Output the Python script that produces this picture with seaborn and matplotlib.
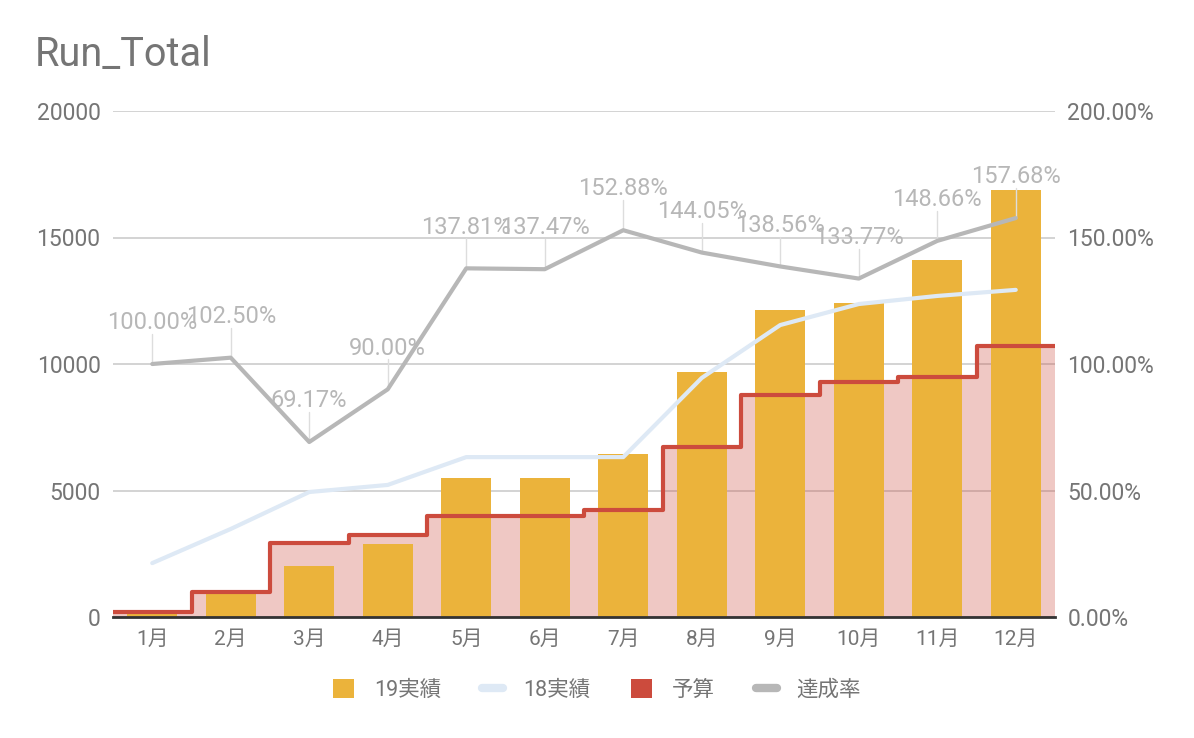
import numpy as np
import pandas as pd
import matplotlib
matplotlib.use("Agg")
import matplotlib.pyplot as plt
import seaborn as sns
from matplotlib.patches import Patch
from matplotlib.lines import Line2D

months = ["1月", "2月", "3月", "4月", "5月", "6月", "7月", "8月", "9月", "10月", "11月", "12月"]
actual19 = [200, 1000, 2020, 2900, 5500, 5500, 6450, 9700, 12150, 12400, 14100, 16880]
actual18 = [2130, 3480, 4940, 5220, 6320, 6320, 6320, 9450, 11540, 12370, 12690, 12930]
budget = [200, 976, 2920, 3222, 3991, 4001, 4219, 6734, 8769, 9270, 9485, 10705]
rate = [100.00, 102.50, 69.17, 90.00, 137.81, 137.47, 152.88, 144.05, 138.56, 133.77, 148.66, 157.68]
left_ticks = [0, 5000, 10000, 15000, 20000]
right_ticks = [0, 50, 100, 150, 200]

GOLD = "#EBB33B"
BLUE = "#DEE9F5"
RED = "#CC4B3D"
GRAY = "#B7B7B7"
TXT = "#757575"

sns.set_theme(style="white")
plt.rcParams["font.family"] = ["Roboto", "Noto Sans CJK JP", "DejaVu Sans"]

df = pd.DataFrame({"month": months, "a19": actual19, "a18": actual18,
                   "budget": budget, "rate": rate, "idx": np.arange(len(months))})

fig = plt.figure(figsize=(11.94, 7.38), dpi=100)
ax = fig.add_axes([113 / 1194, (738 - 617) / 738, 942 / 1194, 506 / 738])

# gridlines
ax.set_ylim(0, 20000)
ax.set_yticks(left_ticks)
ax.yaxis.grid(True, color="#CCCCCC", linewidth=1.2, zorder=0)
ax.set_axisbelow(True)

# budget stepped area
n = len(months)
edges = np.arange(n + 1) - 0.5
step_vals = list(budget) + [budget[-1]]
ax.fill_between(edges, step_vals, step="post", color=RED, alpha=0.3, linewidth=0, zorder=1)

# bars
sns.barplot(data=df, x="idx", y="a19", color=GOLD, width=0.64, saturation=1,
            ax=ax, zorder=2, native_scale=True, linewidth=0, edgecolor="none")

# budget line
ax.step(edges, step_vals, where="post", color=RED, linewidth=3, zorder=3, solid_joinstyle="round")

# 18 line
sns.lineplot(data=df, x="idx", y="a18", color=BLUE, linewidth=3, ax=ax, zorder=4)

ax.set_xlim(-0.5, n - 0.5)
ax.set_xticks(range(n))
ax.set_xticklabels(months)
ax.set_xlabel("")
ax.set_ylabel("")
for s in ["top", "left", "right"]:
    ax.spines[s].set_visible(False)
ax.spines["bottom"].set_color("#333333")
ax.spines["bottom"].set_linewidth(2)
ax.spines["bottom"].set_zorder(5)
ax.tick_params(axis="x", length=0, pad=9, labelsize=15, labelcolor=TXT)
ax.tick_params(axis="y", length=0, pad=9, labelsize=16.5, labelcolor=TXT)
ax.set_yticklabels([str(t) for t in left_ticks])

# rate on twin axis
ax2 = ax.twinx()
ax2.set_ylim(0, 200)
ax2.set_yticks(right_ticks)
ax2.set_yticklabels([f"{t:.2f}%" for t in right_ticks])
ax2.tick_params(axis="y", length=0, pad=9, labelsize=16.5, labelcolor=TXT)
for s in ["top", "left", "right", "bottom"]:
    ax2.spines[s].set_visible(False)
sns.lineplot(data=df, x="idx", y="rate", color=GRAY, linewidth=3, ax=ax2, zorder=5)
ax2.set_xlabel("")
ax2.set_ylabel("")
ax2.set_xlim(-0.5, n - 0.5)
for i, r in enumerate(rate):
    ax2.plot([i, i], [r, r + 11.8], color="#DDDDDD", linewidth=1, zorder=4)
    ax2.annotate(f"{r:.2f}%", xy=(i, r), xytext=(0, 25), textcoords="offset points",
                 ha="center", va="baseline", fontsize=17, color=GRAY, zorder=6)

# title
fig.text(35 / 1194, (738 - 66) / 738, "Run_Total", fontsize=28.5, color=TXT, ha="left", va="baseline")

# legend
handles = [Patch(facecolor=GOLD, edgecolor="none"),
           Line2D([], [], color=BLUE, linewidth=6),
           Patch(facecolor=RED, edgecolor="none"),
           Line2D([], [], color=GRAY, linewidth=6)]
labels = ["19実績", "18実績", "予算", "達成率"]
leg = fig.legend(handles, labels, loc="center", bbox_to_anchor=(0.5, (738 - 690) / 738),
                 ncol=4, frameon=False, fontsize=15.5, handlelength=1.0, handleheight=1.0,
                 handletextpad=0.9, columnspacing=1.9, labelcolor=TXT)

fig.savefig("out.png", dpi=100)
